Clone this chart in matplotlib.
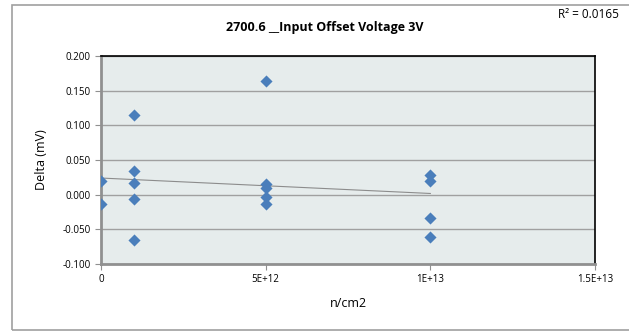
import numpy as np
import matplotlib
matplotlib.use("Agg")
import matplotlib.pyplot as plt
from matplotlib.patches import Rectangle

# fluence (n/cm2) and delta (mV)
x0 = [0, 0]
y0 = [0.020, -0.013]
x1 = [1e12] * 5
y1 = [0.115, 0.034, 0.017, -0.006, -0.066]
x2 = [5e12] * 5
y2 = [0.164, 0.015, 0.010, -0.003, -0.013]
x3 = [1e13] * 4
y3 = [0.028, 0.020, -0.033, -0.061]

xticks = [0, 5e12, 1e13, 1.5e13]
xlabels = ["0", "5E+12", "1E+13", "1.5E+13"]
yticks = [-0.1, -0.05, 0.0, 0.05, 0.1, 0.15, 0.2]

xs = np.array(x0 + x1 + x2 + x3)
ys = np.array(y0 + y1 + y2 + y3)

plt.rcParams['font.family'] = ['Open Sans', 'DejaVu Sans']

fig = plt.figure(figsize=(6.29, 3.35), dpi=100)
fig.patches.append(Rectangle((12 / 629, 5 / 335), 630 / 629, 325 / 335, transform=fig.transFigure,
                             fill=False, edgecolor="#A0A0A0", linewidth=1.2))
ax = fig.add_axes([101 / 629, 1 - 264 / 335, 494 / 629, 208 / 335])
ax.set_facecolor("#E6ECEC")

ax.scatter(xs, ys, marker="D", s=38, color="#4A7EBB", zorder=3, linewidths=0)

# linear trend line
k, b = np.polyfit(xs, ys, 1)
tx = np.array([0, 1e13])
ax.plot(tx, k * tx + b, color="#8C8C8C", linewidth=0.8, zorder=2)

ax.set_xlim(0, 1.5e13)
ax.set_ylim(-0.1, 0.2)
ax.set_xticks(xticks)
ax.set_xticklabels(xlabels)
ax.set_yticks(yticks)
ax.set_yticklabels(["%.3f" % v for v in yticks])
ax.tick_params(labelsize=7, length=4, color="#909090", direction="out")
ax.grid(axis="y", color="#A0A0A0", linewidth=1)
ax.set_axisbelow(True)

for s in ["left", "bottom"]:
    ax.spines[s].set_color("#909090")
    ax.spines[s].set_linewidth(2)
for s in ["top", "right"]:
    ax.spines[s].set_color("black")
    ax.spines[s].set_linewidth(1.2)

ax.set_xlabel("n/cm2", fontsize=9, labelpad=8)
ax.set_ylabel("Delta (mV)", fontsize=9, labelpad=10)
fig.text(325 / 629, 1 - 27 / 335, "2700.6 __Input Offset Voltage 3V", ha="center", va="center",
         fontsize=9, fontweight="bold")
fig.text(558 / 629, 1 - 15 / 335, "R² = 0.0165", ha="left", va="center", fontsize=8.5)

fig.savefig("out.png", dpi=100)
